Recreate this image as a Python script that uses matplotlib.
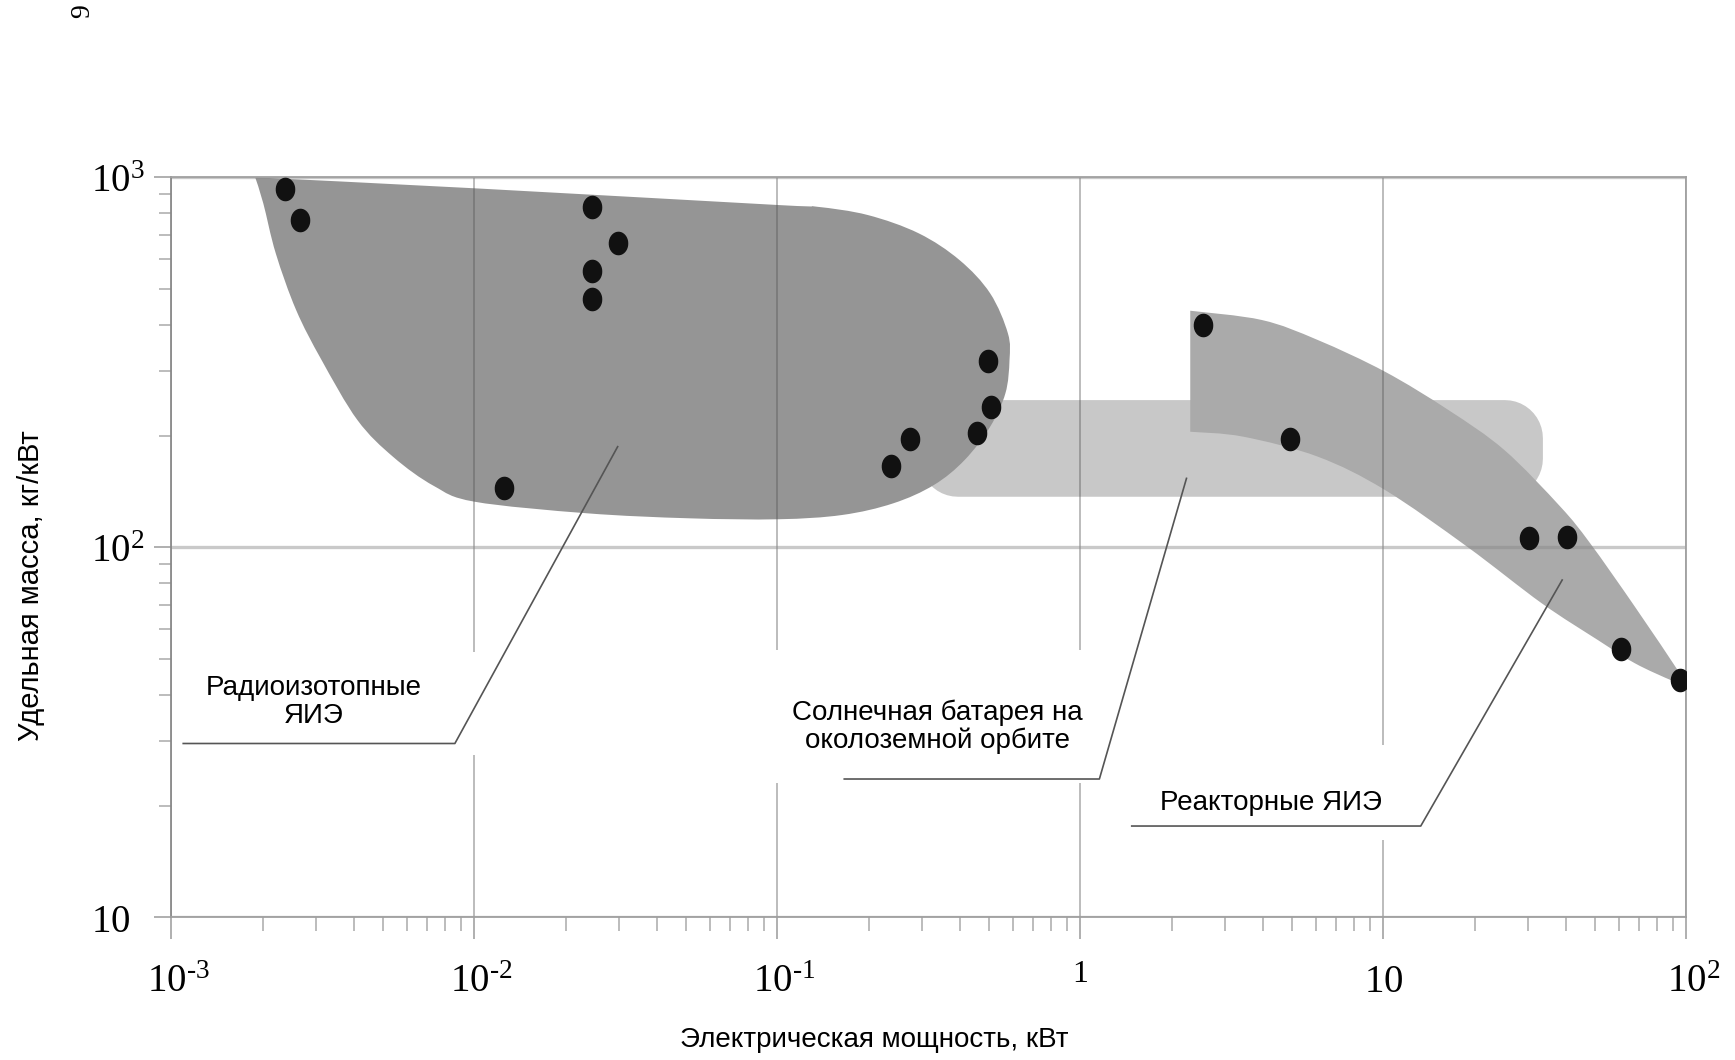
import numpy as np
import matplotlib.pyplot as plt
from matplotlib.patches import Polygon, Rectangle, PathPatch
from matplotlib.path import Path
from matplotlib.ticker import NullFormatter
from matplotlib.transforms import ScaledTranslation

plt.rcParams['mathtext.fontset'] = 'custom'
plt.rcParams['mathtext.rm'] = 'Liberation Serif'
plt.rcParams['mathtext.it'] = 'Liberation Serif:italic'

# measured devices: power, kW / specific mass, kg/kW
radio_kw = [0.00237, 0.00266, 0.02445, 0.0297, 0.02445, 0.02445,
            0.01252, 0.2363, 0.2729, 0.4567, 0.5074, 0.4936]
radio_mass = [928, 766, 833, 666, 558, 468, 144.4, 165.8, 196.2, 204, 238.9, 318.8]
reactor_kw = [2.544, 4.925, 30.15, 40.4, 60.8, 95.1]
reactor_mass = [398.9, 195.8, 106.1, 106.8, 53.1, 43.8]

# zones (outline)
radio_zone_kw = [0.00189, 0.01003, 0.1008, 0.1347, 0.1986, 0.2926, 0.399, 0.5035,
                 0.5763, 0.5834, 0.5655, 0.5035, 0.4148, 0.3284, 0.2411, 0.1635,
                 0.1008, 0.0511, 0.0235, 0.01003, 0.00735, 0.0054, 0.00411,
                 0.00313, 0.00258, 0.00221, 0.00201]
radio_zone_mass = [1000, 934, 841.6, 833, 791, 705.8, 597.6, 485.9,
                   378.8, 320.8, 260.8, 211.8, 172.2, 147.4, 131.5, 122.3,
                   119.1, 119.8, 123.6, 132.8, 146.5, 175.4, 220.8,
                   320.8, 437.8, 623, 850.6]
reactor_top_kw = [2.304, 3.972, 6.075, 10.12, 16.39, 25.07, 38.36, 48.14, 67.6, 95.1, 100]
reactor_top_mass = [436, 411.5, 363.3, 298.3, 235, 183.2, 128.8, 102.5, 69.1, 45.65, 42.4]
reactor_bottom_kw = [100, 89.8, 67.6, 50.95, 33.3, 18.89, 10.12, 6.075, 3.446, 2.304]
reactor_bottom_mass = [42.4, 43.6, 48.6, 56.2, 70.6, 100.4, 142.9, 175.8, 199.1, 205.3]
solar_kw = (0.2953, 33.6)
solar_mass = (137, 250)

# labels and leader lines
labels = ['Радиоизотопные\nЯИЭ', 'Солнечная батарея на\nоколоземной орбите', 'Реакторные ЯИЭ']
label_kw = [0.002953, 0.338, 4.243]
label_mass = [38.2, 32.7, 20.4]
leader_kw = [[0.0297, 0.00862, 0.001094], [2.239, 1.155, 0.1662], [38.9, 13.28, 1.477]]
leader_mass = [[187.1, 29.5, 29.5], [153.6, 23.65, 23.65], [81.6, 17.65, 17.65]]
label_boxes_kw = [(0.00107, 0.01125), (0.0909, 1.16), (1.696, 11.34)]
label_boxes_mass = [(27.5, 52.1), (23.07, 52.8), (16.18, 29.2)]

x_ticks = [1e-3, 1e-2, 1e-1, 1, 10, 1e2]
x_labels = [r'$10^{\text{-}3}$', r'$10^{\text{-}2}$', r'$10^{\text{-}1}$', '$1$', '$10$', r'$10^{2}$']
y_ticks = [10, 100, 1000]
y_labels = ['$10$', r'$10^{2}$', r'$10^{3}$']


def smooth_chain(xs, ys):
    # Catmull-Rom through the outline points, as cubic Bezier pieces (log space)
    p = np.column_stack([np.log10(xs), np.log10(ys)])
    pe = np.vstack([p[0], p, p[-1]])
    verts = []
    for i in range(len(p) - 1):
        p0, p1, p2, p3 = pe[i], pe[i + 1], pe[i + 2], pe[i + 3]
        verts += [p1 + (p2 - p0) / 6, p2 - (p3 - p1) / 6, p2]
    return verts, [Path.CURVE4] * len(verts)


def rounded_box(x0, x1, y0, y1, rx, ry):
    lx0, lx1, ly0, ly1 = np.log10([x0, x1, y0, y1])
    t = np.linspace(0, np.pi / 2, 12)
    xs, ys = [], []
    for cx, cy, a in [(lx1 - rx, ly1 - ry, 0), (lx0 + rx, ly1 - ry, np.pi / 2),
                      (lx0 + rx, ly0 + ry, np.pi), (lx1 - rx, ly0 + ry, 1.5 * np.pi)]:
        xs.extend(cx + rx * np.cos(t + a))
        ys.extend(cy + ry * np.sin(t + a))
    return np.column_stack([10 ** np.array(xs), 10 ** np.array(ys)])


fig = plt.figure(figsize=(17.35, 10.6), dpi=100)
ax = fig.add_axes([0.0988, 0.1346, 0.8732, 0.6981])
ax.set_xscale('log')
ax.set_yscale('log')
ax.set_xlim(1e-3, 1e2)
ax.set_ylim(10, 1e3)

ax.add_patch(Polygon(rounded_box(solar_kw[0], solar_kw[1], solar_mass[0], solar_mass[1], 0.125, 0.103),
                     closed=True, facecolor='#c8c8c8', edgecolor='none', zorder=1))

# radioisotope zone
v, c = smooth_chain(radio_zone_kw + radio_zone_kw[:1], radio_zone_mass + radio_zone_mass[:1])
start = [np.log10([radio_zone_kw[0], radio_zone_mass[0]])]
verts = np.array(start + v + start)
codes = [Path.MOVETO] + c + [Path.CLOSEPOLY]
ax.add_patch(PathPatch(Path(10 ** verts, codes), facecolor='#959595', edgecolor='none', zorder=1.1))

# reactor zone
vt, ct = smooth_chain(reactor_top_kw, reactor_top_mass)
vb, cb = smooth_chain(reactor_bottom_kw, reactor_bottom_mass)
start = [np.log10([reactor_top_kw[0], reactor_top_mass[0]])]
verts = np.array(start + vt + vb + start + start)
codes = [Path.MOVETO] + ct + cb + [Path.LINETO, Path.CLOSEPOLY]
ax.add_patch(PathPatch(Path(10 ** verts, codes), facecolor='#aaaaaa', edgecolor='none', zorder=1.2))

for (bx0, bx1), (by0, by1) in zip(label_boxes_kw, label_boxes_mass):
    ax.add_patch(Rectangle((bx0, by0), bx1 - bx0, by1 - by0, facecolor='white',
                           edgecolor='none', zorder=1.6))

for lx, ly in zip(leader_kw, leader_mass):
    ax.plot(lx, ly, color='#555555', lw=1.2, zorder=2)

for s, tx, ty in zip(labels, label_kw, label_mass):
    ax.text(tx, ty, s, ha='center', va='center', fontsize=20, family='Liberation Sans',
            linespacing=1.1, zorder=4)

t = np.linspace(0, 2 * np.pi, 40)
dot = Path(np.column_stack([0.818 * np.cos(t), np.sin(t)]))
ax.plot(radio_kw, radio_mass, linestyle='none', marker=dot, markersize=16, color='#111111', zorder=3)
ax.plot(reactor_kw, reactor_mass, linestyle='none', marker=dot, markersize=16, color='#111111', zorder=3)

ax.set_xticks(x_ticks)
ax.set_xticklabels(x_labels, fontsize=28)
ax.set_yticks(y_ticks)
ax.set_yticklabels(y_labels, fontsize=28)
ax.xaxis.set_minor_formatter(NullFormatter())
ax.yaxis.set_minor_formatter(NullFormatter())

ax.tick_params(axis='x', which='major', direction='out', length=16, width=1.1, color='#9a9a9a', pad=38)
ax.tick_params(axis='x', which='minor', direction='out', length=10, width=1.1, color='#aaaaaa')
ax.tick_params(axis='y', which='major', direction='out', length=12, width=1.1, color='#9a9a9a', pad=46)
ax.tick_params(axis='y', which='minor', direction='out', length=8.3, width=1.1, color='#aaaaaa')
for lab in ax.get_xticklabels():
    lab.set_va('baseline')
    if '^' in lab.get_text():
        # keep the "10" part centred on the tick
        lab.set_transform(lab.get_transform() + ScaledTranslation(0.07, 0, fig.dpi_scale_trans))
    elif lab.get_text() == '$1$':
        lab.set_fontsize(23)
        lab.set_transform(lab.get_transform() + ScaledTranslation(0, 0.1, fig.dpi_scale_trans))
for lab in ax.get_yticklabels():
    lab.set_ha('left')

ax.xaxis.grid(True, which='major', color='#555555', alpha=0.5, lw=1.1)
ax.yaxis.grid(True, which='major', color='#888888', alpha=0.45, lw=2.4)

for side in ['left', 'right', 'top', 'bottom']:
    ax.spines[side].set_color('#a0a0a0')
    ax.spines[side].set_linewidth(1.3)
ax.spines['left'].set_color('#8a8a8a')

ax.set_xlabel('Электрическая мощность, кВт', fontsize=20, family='Liberation Sans', va='center')
ax.xaxis.set_label_coords(0.4637, -0.1658)
ax.set_ylabel('Удельная масса, кг/кВт', fontsize=21, family='Liberation Sans', va='center')
ax.yaxis.set_label_coords(-0.0927, 0.4477)

fig.text(83 / 1735, 1 - 11 / 1060, '9', rotation=90, fontsize=20, family='Liberation Serif',
         ha='center', va='center')

fig.savefig('out.png', dpi=100)
